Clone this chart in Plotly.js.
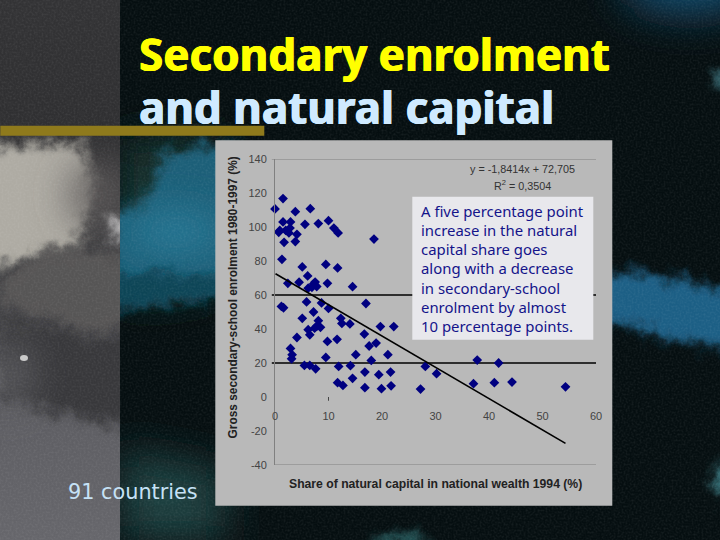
<!DOCTYPE html>
<html>
<head>
<meta charset="utf-8">
<script src="https://cdn.plot.ly/plotly-3.0.1.min.js"></script>
<style>
html,body{margin:0;padding:0;width:720px;height:540px;overflow:hidden;background:#050e10}
#bg{position:absolute;left:0;top:0}
#plot{position:absolute;left:0;top:0;width:720px;height:540px}
</style>
</head>
<body>
<svg id="bg" width="720" height="540" viewBox="0 0 720 540" xmlns="http://www.w3.org/2000/svg">
<defs>
<filter id="wc" filterUnits="userSpaceOnUse" x="-100" y="-100" width="920" height="740">
<feGaussianBlur stdDeviation="6" result="b"/>
<feTurbulence type="fractalNoise" baseFrequency="0.06" numOctaves="4" seed="7" result="n"/>
<feDisplacementMap in="b" in2="n" scale="22" xChannelSelector="R" yChannelSelector="G" result="d"/>
<feOffset in="d" dx="9" dy="9"/>
</filter>
<filter id="soft" filterUnits="userSpaceOnUse" x="-100" y="-100" width="920" height="740"><feGaussianBlur stdDeviation="20"/></filter>
<filter id="grain" x="0" y="0" width="100%" height="100%">
<feTurbulence type="fractalNoise" baseFrequency="0.5" numOctaves="3" seed="3"/>
<feColorMatrix values="0 0 0 0 1  0 0 0 0 1  0 0 0 0 1  1.6 0 0 0 -0.62"/>
</filter>
<linearGradient id="leftG" x1="0" y1="0" x2="0" y2="1">
<stop offset="0" stop-color="#333335"/><stop offset=".25" stop-color="#2f2f31"/>
<stop offset=".6" stop-color="#454548"/><stop offset=".8" stop-color="#5f5f64"/><stop offset="1" stop-color="#66666b"/>
</linearGradient>
<clipPath id="cl"><rect x="0" y="0" width="120" height="540"/></clipPath>
<clipPath id="cr"><rect x="120" y="0" width="600" height="540"/></clipPath>
</defs>
<g clip-path="url(#cl)">
<rect width="120" height="540" fill="url(#leftG)"/>
<path d="M-30 135 L75 135 L85 180 L70 240 L35 245 L-30 260Z" fill="#aeaba3" filter="url(#wc)"/>
<ellipse cx="98" cy="195" rx="28" ry="34" fill="#5b5959" filter="url(#soft)"/>
<ellipse cx="108" cy="222" rx="10" ry="10" fill="#c4c3c4" filter="url(#wc)"/>
<path d="M-10 275 L35 240 L75 240 L125 248 L125 312 L90 326 L45 313 L-10 296Z" fill="#565455" filter="url(#wc)"/>
<path d="M-10 313 L45 316 L90 333 L125 316 L125 420 L35 400 L-10 390Z" fill="#38383b" filter="url(#wc)"/>
<ellipse cx="10" cy="375" rx="16" ry="32" fill="#6a6a6e" filter="url(#soft)"/>
<ellipse cx="24" cy="358" rx="4" ry="3" fill="#c9c9c9"/>
</g>
<g clip-path="url(#cr)">
<rect x="120" y="0" width="600" height="540" fill="#050e10"/>
<path d="M120 140 L215 135 L215 290 L120 300Z" fill="#12302f" filter="url(#soft)"/>
<path d="M135 195 L155 145 L225 130 L225 285 L100 288 L100 205Z" fill="#1a5f78" filter="url(#wc)"/>
<ellipse cx="175" cy="232" rx="50" ry="16" fill="#2b809f" filter="url(#soft)"/>
<path d="M100 262 L225 266 L225 290 L170 294 L100 303Z" fill="#0f4456" filter="url(#wc)"/>
<path d="M120 450 L225 470 L225 540 L120 540Z" fill="#1e3f3f" filter="url(#soft)"/>
<ellipse cx="690" cy="-15" rx="70" ry="30" fill="#154a6a" filter="url(#soft)"/>
<path d="M590 262 L645 266 L740 285 L740 345 L655 328 L590 312Z" fill="#1b5f85" filter="url(#wc)"/>
<ellipse cx="714" cy="68" rx="6" ry="10" fill="#4a8c98" filter="url(#wc)"/>
<ellipse cx="716" cy="472" rx="10" ry="18" fill="#3f858e" filter="url(#wc)"/>
<ellipse cx="390" cy="534" rx="28" ry="7" fill="#2c6466" filter="url(#wc)"/>
</g>
<rect width="720" height="540" filter="url(#grain)" opacity=".09"/>
</svg>
<div id="plot"></div>
<script>
// Share of natural capital (%) and gross secondary enrolment (%)
var shareValues = [1.5,0,3.8,6.6,1.5,2.9,5.6,8.1,10,11,11.8,0.7,2,2.8,2.6,0.9,4.1,1.7,3.8,18.5,1.3,5.1,9.5,11.7,6.1,4.5,2.4,7.5,9.8,14.5,6.9,7.8,6.2,7.2,
1.2,1.6,5.9,8.7,10,17,7.2,5.1,8.1,12.3,12.5,14,19.7,22.2,8.5,7.4,6.2,7.8,6.5,16.7,4.1,9.8,11.6,18.9,17.6,2.9,3.2,3.1,9.5,15.1,21.1,18,5.5,6.5,7.6,11.9,14.1,16.8,19.4,21.6,14.5,11.7,12.7,16.8,19.9,21.7,
27.2,28.1,30.2,37.1,37.8,41,41.8,44.3,54.3];
var enrolValues = [116.7,110.6,109,110.8,103,103,101.6,102,103.7,99.4,96.5,96.9,98,99.4,96.5,98,95.7,91,91.4,92.9,81,76.5,78,75.9,71.2,67.5,66.9,67.6,66.9,64.9,64.5,65,64,66.5,
53.3,52.5,55.9,55.3,52.1,55,50,46.3,44.9,46.3,43.3,43,41.4,41.4,41,40.5,39.6,41.6,36.6,37,35,32.7,33.9,31.7,30,28.6,24.9,22.5,23.3,24.9,24.9,21.5,18.6,18.6,16.6,18,18.4,14.7,13.1,14.7,11,8.4,6.8,5.5,4.9,6.6,
4.7,18,13.7,7.8,21.7,8.4,20,8.8,6];
var trendX = [0.1,54.3];
var trendY = [72.5,-27.3];
var xTicks = [0,10,20,30,40,50,60];
var yTicks = [-40,-20,0,20,40,60,80,100,120,140];
var ruleLevels = [140,60,20,-40];
var boxLines = ["A five percentage point","increase in the natural","capital share goes","along with a decrease","in secondary-school","enrolment by almost","10 percentage points."];

var L=274.7,R=595.7,T=159.3,B=465.3,W=720,H=540;
function px(v){return (v-L)/(R-L);}
function py(v){return (B-v)/(B-T);}
function note(text,x,y,font,extra){
  return Object.assign({text:text,xref:'paper',yref:'paper',x:px(x),y:py(y),showarrow:false,xanchor:'left',yanchor:'middle',font:font,borderpad:0},extra||{});
}
var arial='"Liberation Sans", Arial, sans-serif';
var shapes=[
 {type:'rect',xref:'paper',yref:'paper',x0:px(0),x1:px(264),y0:py(126),y1:py(136),fillcolor:'#8f7a1c',line:{width:0},layer:'below'},
 {type:'rect',xref:'paper',yref:'paper',x0:px(215),x1:px(612),y0:py(140.5),y1:py(506),fillcolor:'#b9b9b9',line:{width:0},layer:'below'}
];
ruleLevels.forEach(function(v){
  var strong=(v===60||v===20);
  shapes.push({type:'line',xref:'paper',yref:'y',x0:v===-40?0:px(271.5),x1:1,y0:v,y1:v,line:{color:strong?'#000':'#808080',width:strong?1.5:1},layer:'below'});
});
shapes.push({type:'rect',xref:'paper',yref:'paper',x0:px(412),x1:px(593),y0:py(197),y1:py(340),fillcolor:'#e8e8ec',line:{width:0},layer:'below'});
shapes.push({type:'line',xref:'x',yref:'y',x0:10,x1:10,y0:0,y1:-2.2,line:{color:'#444',width:1},layer:'below'});

var titleFont={family:'"Noto Sans", sans-serif',size:44,weight:700};
var annotations=[
 note('Secondary enrolment',138,54,Object.assign({color:'#ffff00',shadow:'0.6px 0 0 #ffff00, -0.6px 0 0 #ffff00'},titleFont)),
 note('and natural capital',138,107,Object.assign({color:'#cfeaff',shadow:'0.6px 0 0 #cfeaff, -0.6px 0 0 #cfeaff'},titleFont)),
 note('91 countries',67,492,{family:'"DejaVu Sans", sans-serif',size:20.8,color:'#c6e2f6'}),
 note('Share of natural capital in national wealth 1994 (%)',435.5,484,{family:arial,size:12.2,weight:700,color:'#222'},{xanchor:'center'}),
 note('Gross secondary-school enrolment 1980-1997 (%)',233,297.5,{family:arial,size:11.9,weight:700,color:'#222'},{xanchor:'center',textangle:-90}),
 note('y = -1,8414x + 72,705',522,169,{family:arial,size:10.8,color:'#333'},{xanchor:'center'}),
 note('R<sup>2</sup> = 0,3504',522,185,{family:arial,size:10.8,color:'#333'},{xanchor:'center'})
];
boxLines.forEach(function(t,i){
  annotations.push(note(t,420,211+i*19.2,{family:'"Noto Sans", sans-serif',size:14.9,color:'#14148a'}));
});

var traces=[
 {type:'scatter',mode:'markers',x:shareValues,y:enrolValues,cliponaxis:false,hoverinfo:'skip',
  marker:{symbol:'diamond',size:7.5,color:'#000080',line:{width:0}}},
 {type:'scatter',mode:'lines',x:trendX,y:trendY,hoverinfo:'skip',line:{color:'#000',width:1.6}}
];
var layout={
 width:W,height:H,showlegend:false,
 paper_bgcolor:'rgba(0,0,0,0)',plot_bgcolor:'rgba(0,0,0,0)',
 margin:{l:L,r:W-R,t:T,b:H-B,pad:0},
 xaxis:{range:[0,60],tickmode:'array',tickvals:xTicks,ticktext:xTicks.map(String),showgrid:false,zeroline:false,showline:false,
  anchor:'free',position:40/180,ticks:'outside',ticklen:9,tickcolor:'rgba(0,0,0,0)',
  tickfont:{family:arial,size:11,color:'#444'}},
 yaxis:{range:[-40,140],tickmode:'array',tickvals:yTicks,ticktext:yTicks.map(String),showgrid:false,zeroline:false,
  showline:true,linecolor:'#808080',linewidth:1,ticks:'outside',ticklen:5,tickcolor:'rgba(0,0,0,0)',
  tickfont:{family:arial,size:11,color:'#444'}},
 shapes:shapes,annotations:annotations
};
Plotly.newPlot('plot',traces,layout,{staticPlot:true,displayModeBar:false});
</script>
</body>
</html>
